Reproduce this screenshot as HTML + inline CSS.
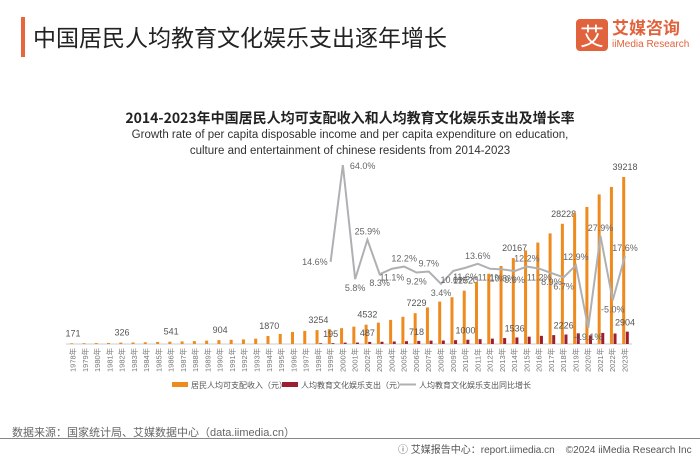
<!DOCTYPE html>
<html><head><meta charset="utf-8">
<style>
body{margin:0;width:700px;height:455px;background:#fff;font-family:"Liberation Sans","Noto Sans CJK SC",sans-serif;position:relative;overflow:hidden}
.abs{position:absolute}
</style></head><body>
<div class="abs" style="left:21px;top:17px;width:4px;height:40px;background:#e8663d"></div>
<div class="abs" style="left:33px;top:19px;font-size:23px;color:#222;font-family:'Noto Sans CJK SC',sans-serif">中国居民人均教育文化娱乐支出逐年增长</div>
<div class="abs" style="left:576px;top:19px;width:32px;height:32px;background:#e0633d;border-radius:4px;color:#fff;font-size:24px;line-height:32px;text-align:center;font-family:'Noto Sans CJK SC',sans-serif">艾</div>
<div class="abs" style="left:612px;top:17px;color:#e0633d;font-size:17px;font-weight:bold;font-family:'Noto Sans CJK SC',sans-serif;line-height:20px">艾媒咨询</div>
<div class="abs" style="left:612px;top:39px;color:#e0633d;font-size:10px">iiMedia Research</div>
<div class="abs" style="left:0;width:700px;text-align:center;top:108px;font-size:14px;font-weight:bold;color:#222;font-family:'Noto Sans CJK SC',sans-serif">2014-2023年中国居民人均可支配收入和人均教育文化娱乐支出及增长率</div>
<div class="abs" style="left:0;width:700px;text-align:center;top:127px;font-size:11.5px;color:#333;line-height:16px">Growth rate of per capita disposable income and per capita expenditure on education,<br>culture and entertainment of chinese residents from 2014-2023</div>
<svg class="abs" style="left:0;top:0" width="700" height="455" id="svg"></svg>
<div class="abs" style="left:12px;top:424px;font-size:11px;color:#666">数据来源：国家统计局、艾媒数据中心（data.iimedia.cn）</div>
<div class="abs" style="left:0;top:438px;width:700px;height:1px;background:#888"></div>
<div class="abs" style="left:398px;top:441px;font-size:10px;color:#555;white-space:nowrap">ⓘ 艾媒报告中心：report.iimedia.cn &nbsp;&nbsp;&nbsp;©2024 iiMedia Research Inc</div>
<script>
const years=[];for(let y=1978;y<=2023;y++)years.push(y+'年');
const income=[171,190,220,250,326,360,400,480,541,600,680,790,904,990,1080,1250,1870,2363,2814,3070,3254,3485,3721,4070,4532,5007,5661,6385,7229,8584,9956,10977,12520,14551,16510,18311,20167,21966,23821,25974,28228,30733,32189,35128,36883,39218];
const spend=[null,null,null,null,null,null,null,null,null,null,null,null,null,null,null,null,null,null,null,null,170,195,320,338,487,527,586,657,718,788,815,897,1000,1136,1262,1398,1536,1723,1915,2086,2226,2513,2032,2599,2469,2904];
const growth=[null,null,null,null,null,null,null,null,null,null,null,null,null,null,null,null,null,null,null,null,null,14.6,64.0,5.8,25.9,8.3,11.1,12.2,9.2,9.7,3.4,10.0,11.6,13.6,11.1,10.8,9.9,12.2,11.2,8.9,6.7,12.9,-19.1,27.9,-5.0,17.6];
const incomeLabelYears=[1978,1982,1986,1990,1994,1998,2002,2006,2010,2014,2018,2023];
const spendLabelYears=[1999,2002,2006,2010,2014,2018,2023];
const svg=document.getElementById('svg');const NS='http://www.w3.org/2000/svg';
function mk(t,a){const e=document.createElementNS(NS,t);for(const k in a)e.setAttribute(k,a[k]);svg.appendChild(e);return e;}
const x0=73,dx=(625-73)/45,base=344;
const xs=i=>x0+i*dx;const yb=v=>base-v*167/39218;const yg=v=>290.5-v*1.96;
const ax=mk('line',{x1:66,x2:632,y1:base,y2:base,stroke:'#ccc'});

years.forEach((y,i)=>{
 const b=mk('rect',{x:xs(i)-2.8,y:yb(income[i]),width:3,height:base-yb(income[i]),fill:'#ee8a1e'});
 
 if(spend[i]!=null){const r=mk('rect',{x:xs(i)+0.8,y:yb(spend[i]),width:3,height:base-yb(spend[i]),fill:'#9b1f2e'});
 }
 const t=mk('text',{x:0,y:0,'font-size':7.5,fill:'#777',transform:`translate(${xs(i)+2.5},372) rotate(-90)`});t.textContent=y;
 
 if(incomeLabelYears.includes(1978+i)){const l=mk('text',{x:xs(i),y:yb(income[i])-7,'font-size':9,fill:'#555','text-anchor':'middle'});l.textContent=income[i];
 }
 if(spendLabelYears.includes(1978+i)){const l=mk('text',{x:xs(i),y:yb(spend[i])-6,'font-size':9,fill:'#555','text-anchor':'middle'});l.textContent=spend[i];
 }
});
let d='';growth.forEach((g,i)=>{if(g!=null)d+=(d?'L':'M')+xs(i)+','+yg(g);});
const p=mk('path',{d:d,fill:'none',stroke:'#aeb0b3','stroke-width':2});

const gmax=Math.max(...growth.filter(g=>g!=null));
growth.forEach((g,i)=>{if(g==null)return;
 const pr=growth[i-1],nx=growth[i+1];const peak=(pr==null||g>=pr)&&(nx==null||g>=nx);
 let a={x:xs(i),y:peak?yg(g)-5:yg(g)+12,'font-size':9,fill:'#666','text-anchor':'middle'};
 if(g===gmax)a={x:xs(i)+7,y:yg(g)+4,'font-size':9,fill:'#666','text-anchor':'start'};
 if(pr==null)a={x:xs(i)-3,y:yg(g)+3,'font-size':9,fill:'#666','text-anchor':'end'};
 const l=mk('text',a);
 l.textContent=g.toFixed(1)+'%';
 });
const lg=[['rect','#ee8a1e','居民人均可支配收入（元）',172],['rect','#9b1f2e','人均教育文化娱乐支出（元）',282],['line','#aeb0b3','人均教育文化娱乐支出同比增长',400]];
lg.forEach(([k,c,t,x])=>{
 const s=k=='rect'?mk('rect',{x:x,y:382,width:16,height:5,fill:c}):mk('line',{x1:x,x2:x+16,y1:384.5,y2:384.5,stroke:c,'stroke-width':2});
 
 const tx=mk('text',{x:x+19,y:388,'font-size':8,fill:'#555'});tx.textContent=t;
 });
</script>
</body></html>
